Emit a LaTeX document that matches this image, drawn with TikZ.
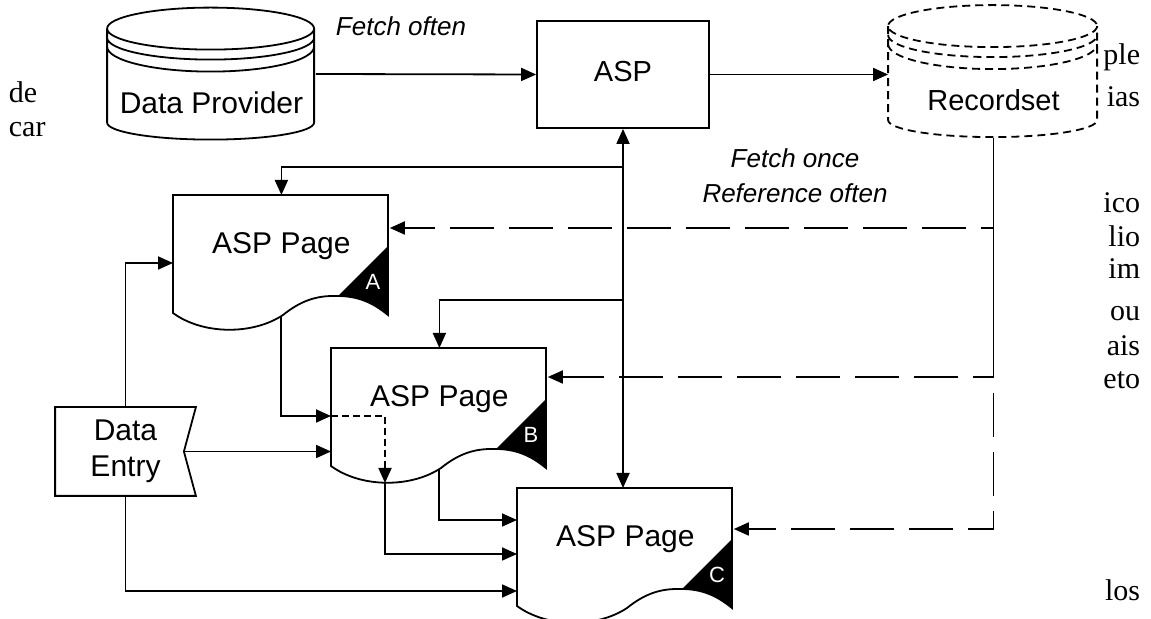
\documentclass[tikz,border=0pt]{standalone}
\usepackage{fontspec}
\setmainfont{Liberation Sans}
\newfontfamily\pagetext{Liberation Serif}
\usetikzlibrary{arrows.meta,calc}

\begin{document}
\begin{tikzpicture}[x=0.5pt, y=-0.5pt, line width=0.9pt,
    >={Triangle[length=7.5pt,width=6.5pt]},
    bgtext/.style={font=\pagetext\fontsize{15}{17}\selectfont, inner sep=0pt},
    box/.style={draw, inner sep=0pt, minimum width=86pt, minimum height=53.5pt, text depth=3pt, font=\fontsize{14.5}{17}\selectfont},
    drum/.style={inner sep=0pt, text height=52.5pt, text depth=13pt, font=\fontsize{15}{18}\selectfont},
    drumdash/.style={dash pattern=on 4pt off 2.5pt},
    page/.style={inner sep=0pt, minimum width=107.5pt, text height=29pt, text depth=30pt, anchor=north west, font=\fontsize{15}{18}\selectfont},
    tag/.style={text=white, inner sep=0pt, font=\fontsize{11}{12}\selectfont},
    entry/.style={inner sep=0pt, minimum width=69.5pt, minimum height=43.5pt, align=center, font=\fontsize{15}{18}\selectfont},
    note/.style={align=center, inner sep=0pt, font=\itshape\fontsize{13}{17.5}\selectfont},
    refline/.style={->, dash pattern=on 22pt off 7.5pt},
    shortdash/.style={->, dash pattern=on 3.5pt off 2pt}]
  \useasboundingbox (0,0) rectangle (1151,619);

  % page text behind the figure
  \node[bgtext, anchor=west] (l1) at (8,92) {de};
  \node[bgtext, anchor=west] (l2) at (8,130) {car};
  \foreach \t/\yy [count=\i] in {ple/57, ias/97, ico/203, lio/236, im/269, ou/314, ais/346, eto/380, los/590}
    \node[bgtext, anchor=east] (r\i) at (1141,\yy) {\t};
  \fill[white] (50,0) rectangle (1099,619);

  \node[drum, minimum width=103.5pt] (dp) at (211.5,74) {Data Provider};
  \node[drum, minimum width=104.5pt, font=\fontsize{14.5}{17}\selectfont] (rs) at (993.5,71.5) {Recordset};
  \foreach \c/\w/\st in {dp/207/solid, rs/209/drumdash}{
    \begin{scope}[shift={(\c.north west)}]
      \draw[\st] (\w/2,21) ellipse [x radius=\w/2, y radius=21]
        (0,30) arc [start angle=180, end angle=0, x radius=\w/2, y radius=22]
        (0,39) arc [start angle=180, end angle=0, x radius=\w/2, y radius=25]
        (0,21) -- (0,115) arc [start angle=180, end angle=0, x radius=\w/2, y radius=17] -- (\w,21);
    \end{scope}
  }

  \node[box] (asp) at (623,74.5) {ASP};
  \node[note] (fo) at (401,26) {Fetch often};
  \node[note] (fr) at (795,175.5) {Fetch once\\Reference often};

  \node[page] (pa) at (173,195) {ASP Page};
  \node[page] (pb) at (331,348) {ASP Page};
  \node[page] (pc) at (517,488) {ASP Page};
  \foreach \p/\l in {pa/A, pb/B, pc/C}{
    \begin{scope}[shift={(\p.north west)}]
      \draw (0,0) -- (215,0) -- (215,120) .. controls (205,112) and (190,101) .. (165,101) -- (160,101)
        .. controls (140,101) and (125,108) .. (110,120) .. controls (80,140) and (30,140) .. (0,118) -- cycle;
      \fill (215,51) -- (165,101) .. controls (190,101) and (205,112) .. (215,120) -- cycle;
      \node[tag] (\p-tag) at (200,87) {\l};
      \coordinate (\p-low) at (54,135);
      \coordinate (\p-mid) at (108,121);
    \end{scope}
  }

  \node[entry] (de) at (125.5,451.5) {Data\\Entry};
  \draw (de.north east) -- (de.north west) -- (de.south west) -- (de.south east)
    -- ($(de.east)+(-12,0)$) coordinate (de-n) -- cycle;

  % fetch often
  \draw[->] (dp.east) -- (asp.west);
  \draw[->] (asp.east) -- (asp.east -| rs.west);
  \coordinate (ja) at (623,167);
  \coordinate (jb) at (623,300);
  \draw[<->] (asp.south) -- (asp.south |- pc.north);
  \draw[->] (ja) -| (pa.north);
  \draw[->] (jb) -| (pb.north);

  % reference often
  \draw[refline] (rs.south) |- ($(pa.north east)+(0,33)$);
  \draw[refline, dash phase=10pt] (rs.south) |- ($(pb.north east)+(0,29)$);
  \draw[refline, dash phase=20pt] (rs.south) |- ($(pc.north east)+(0,41)$);

  % data entry
  \draw[->] (de.north) |- ($(pa.north west)+(0,68)$);
  \draw[->] (de-n) -- (de-n -| pb.west);
  \draw[->] (de.south) |- ($(pc.north west)+(0,103)$);
  \draw[->] (pa-mid) |- ($(pb.north west)+(0,68)$);
  \draw[shortdash] ($(pb.north west)+(0,68)$) -| (pb-low);
  \draw[->] (pb-low) |- ($(pc.north west)+(0,66)$);
  \draw[->] (pb-mid) |- ($(pc.north west)+(0,32)$);
\end{tikzpicture}
\end{document}
